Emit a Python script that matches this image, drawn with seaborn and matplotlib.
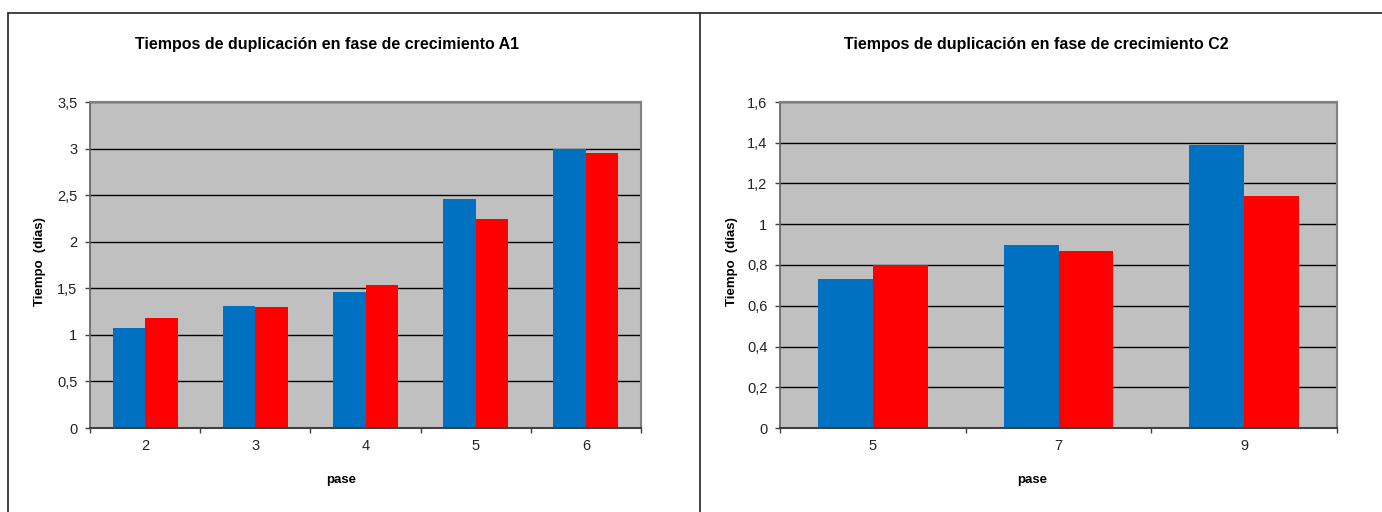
import matplotlib
matplotlib.use("Agg")
import matplotlib.pyplot as plt
import seaborn as sns
import pandas as pd
from matplotlib.lines import Line2D
from matplotlib.ticker import FuncFormatter, FixedLocator, MultipleLocator

# ---- data ----
pase_a1 = ["2", "3", "4", "5", "6"]
a1_serie1 = [1.07, 1.31, 1.46, 2.46, 3.00]
a1_serie2 = [1.18, 1.30, 1.53, 2.24, 2.95]

pase_c2 = ["5", "7", "9"]
c2_serie1 = [0.73, 0.90, 1.39]
c2_serie2 = [0.80, 0.87, 1.14]

series_names = ["Serie1", "Serie2"]
colors = ["#0070C0", "#FF0000"]

titles = ["Tiempos de duplicación en fase de crecimiento A1",
          "Tiempos de duplicación en fase de crecimiento C2"]

sns.set_theme(style="white")
plt.rcParams["font.family"] = ["Liberation Sans", "DejaVu Sans"]

W, H = 1382, 512
fig = plt.figure(figsize=(W / 100, H / 100), dpi=100)
fig.patch.set_facecolor("white")


def fx(px):
    return px / W


def fy(py):
    return 1 - py / H


def make_df(cats, s1, s2):
    return pd.DataFrame({
        "pase": cats * 2,
        "valor": list(s1) + list(s2),
        "serie": [series_names[0]] * len(cats) + [series_names[1]] * len(cats),
    })


panels = [
    dict(df=make_df(pase_a1, a1_serie1, a1_serie2), cats=pase_a1, ymax=3.5, step=0.5,
         rect=[fx(90), fy(428), fx(641) - fx(90), fy(102) - fy(428)],
         title_x=327, ylab_x=40, xlab_x=341),
    dict(df=make_df(pase_c2, c2_serie1, c2_serie2), cats=pase_c2, ymax=1.6, step=0.2,
         rect=[fx(780), fy(428), fx(1337) - fx(780), fy(102) - fy(428)],
         title_x=1036, ylab_x=732, xlab_x=1032),
]


def comma(v, pos):
    s = ("%g" % round(v, 2))
    return s.replace(".", ",")


for i, p in enumerate(panels):
    ax = fig.add_axes(p["rect"])
    ax.set_facecolor("#C0C0C0")
    sns.barplot(data=p["df"], x="pase", y="valor", hue="serie", order=p["cats"],
                hue_order=series_names, palette=colors, width=0.59, gap=0,
                saturation=1, edgecolor="none", linewidth=0, legend=False, ax=ax)
    n = len(p["cats"])
    ax.set_xlim(-0.5, n - 0.5)
    ax.set_ylim(0, p["ymax"])
    ax.yaxis.set_major_locator(MultipleLocator(p["step"]))
    ax.yaxis.set_major_formatter(FuncFormatter(comma))
    ax.yaxis.grid(True, color="black", linewidth=1)
    ax.xaxis.grid(False)
    ax.set_axisbelow(True)

    ax.xaxis.set_major_locator(FixedLocator([k - 0.5 for k in range(n + 1)]))
    ax.xaxis.set_minor_locator(FixedLocator(list(range(n))))
    ax.set_xticklabels([""] * (n + 1))
    ax.set_xticklabels(p["cats"], minor=True)
    ax.tick_params(axis="x", which="major", direction="out", length=3.5, width=1,
                   color="#404040", bottom=True)
    ax.tick_params(axis="x", which="minor", length=0, pad=8, labelsize=10.5,
                   labelcolor="#222222")
    ax.tick_params(axis="y", direction="out", length=3.5, width=1, color="#404040",
                   left=True, pad=5.5, labelsize=10.5, labelcolor="#222222")
    ax.set_xlabel("")
    ax.set_ylabel("")

    for side in ["top", "right"]:
        ax.spines[side].set_color("#808080")
        ax.spines[side].set_linewidth(1.5)
        ax.spines[side].set_visible(True)
    ax.spines["left"].set_color("#606060")
    ax.spines["left"].set_linewidth(1.2)
    ax.spines["bottom"].set_color("#404040")
    ax.spines["bottom"].set_linewidth(1.5)
    ax.spines["left"].set_visible(True)
    ax.spines["bottom"].set_visible(True)

    fig.text(fx(p["title_x"]), fy(44), titles[i], ha="center", va="center",
             fontsize=11.5, fontweight="bold", color="black")
    fig.text(fx(p["ylab_x"]), fy(262), "Tiempo  (días)", ha="center", va="center",
             rotation=90, fontsize=9.5, fontweight="bold", color="black")
    fig.text(fx(p["xlab_x"]), fy(480), "pase", ha="center", va="center",
             fontsize=9.5, fontweight="bold", color="black")

# frame lines
lc = "#222222"
fig.add_artist(Line2D([fx(8), 1.0], [fy(12.5), fy(12.5)], color=lc, linewidth=1.2,
                      transform=fig.transFigure))
fig.add_artist(Line2D([fx(8), fx(8)], [0, fy(12.5)], color=lc, linewidth=1.2,
                      transform=fig.transFigure))
fig.add_artist(Line2D([fx(700), fx(700)], [0, fy(12.5)], color=lc, linewidth=1.2,
                      transform=fig.transFigure))

fig.savefig("out.png", dpi=100, facecolor="white")
